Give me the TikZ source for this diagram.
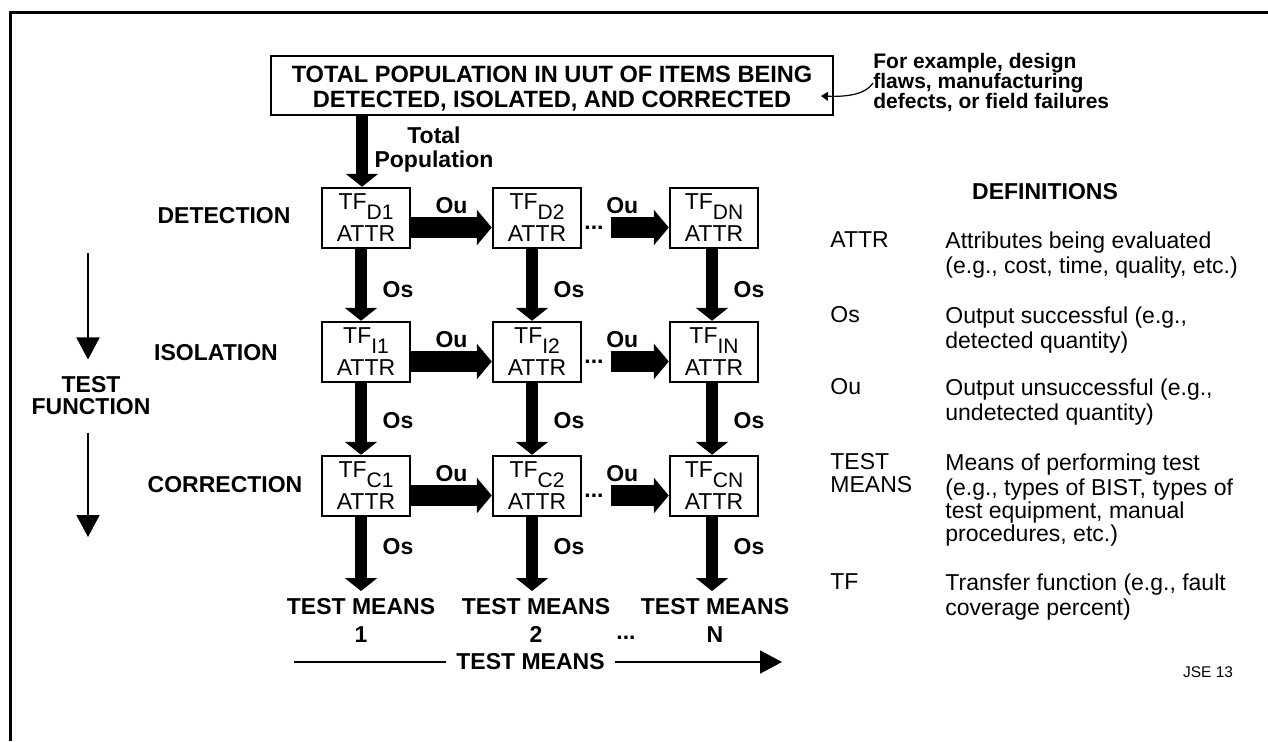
\documentclass[tikz,border=0pt]{standalone}
\usepackage{fontspec}
\setmainfont{Liberation Sans}
\usetikzlibrary{arrows.meta}

\newcommand{\tfsub}[1]{TF\raisebox{-5pt}[0pt][0pt]{\fontsize{10.5}{10.5}\selectfont #1}}
\newcommand{\notefont}{\bfseries\fontsize{10.5}{10}\selectfont\lineskiplimit=-5pt\relax}

\begin{document}
\begin{tikzpicture}[x=0.5pt, y=-0.5pt,
  cell/.style={draw, line width=1.25pt, minimum width=44pt, minimum height=30pt,
               inner sep=0pt, align=center, font=\fontsize{11.5}{16}\selectfont},
  lbl/.style={font=\bfseries\fontsize{11.5}{11}\selectfont, align=center},
  hflow/.style={line width=10.5pt, -{Triangle[length=7.5pt, width=17.5pt]}},
  vflow/.style={line width=6pt, -{Triangle[length=6.5pt, width=16pt]}},
  axis/.style={line width=1pt, -{Triangle[length=11pt, width=11.5pt]}},
  defn/.style={anchor=north west, inner sep=0pt, align=left,
               font=\fontsize{11.5}{11.5}\selectfont}]
  \useasboundingbox (0,0) rectangle (1268,741);
  \draw[line width=1.5pt] (10.75,741) -- (10.75,12.5) -- (1268,12.5);

  % population box and note
  \node[draw, line width=1.4pt, minimum width=281pt, minimum height=29.5pt,
        inner sep=0pt, lbl, font=\bfseries\fontsize{11.8}{12.5}\selectfont]
        (pop) at (552,85.5) {\rule{0pt}{11.5pt}TOTAL POPULATION IN UUT OF ITEMS BEING\\DETECTED, ISOLATED, AND CORRECTED};
  \node[align=left, anchor=west, inner sep=0pt, font=\notefont]
        (note) at (873,83) {For example, design\\flaws, manufacturing\\defects, or field failures};
  \coordinate (noteTip) at (821,96);
  \draw[line width=0.6pt, -{Triangle[length=3.5pt, width=4.5pt]}]
    (note.west) .. controls (866,94) and (848,97) .. (noteTip);

  % transfer function grid
  \node[cell] (D1) at (366,218) {\tfsub{D1}\\ATTR};
  \node[cell] (D2) at (537,218) {\tfsub{D2}\\ATTR};
  \node[cell] (DN) at (714,218) {\tfsub{DN}\\ATTR};
  \node[cell] (I1) at (366,352) {\tfsub{I1}\\ATTR};
  \node[cell] (I2) at (537,352) {\tfsub{I2}\\ATTR};
  \node[cell] (IN) at (714,352) {\tfsub{IN}\\ATTR};
  \node[cell] (C1) at (366,486) {\tfsub{C1}\\ATTR};
  \node[cell] (C2) at (537,486) {\tfsub{C2}\\ATTR};
  \node[cell] (CN) at (714,486) {\tfsub{CN}\\ATTR};

  \node[lbl] (det) at (224,216) {DETECTION};
  \node[lbl] (iso) at (216,353) {ISOLATION};
  \node[lbl] (cor) at (225,485) {CORRECTION};

  \draw[vflow] ([xshift=-2pt]D1.north |- pop.south) -- ([xshift=-2pt]D1.north);
  \node[lbl, font=\bfseries\fontsize{11.5}{12}\selectfont] (totlbl) at (434,150) {Total\\Population};

  % undetected outputs along each row
  \node[lbl] (dotsD) at (594,227.5) {...};
  \node[lbl] (dotsI) at (594,361.5) {...};
  \node[lbl] (dotsC) at (594,495.5) {...};
  \draw[hflow] (D1.east |- dotsD) -- node[lbl, above=-1.5pt] {Ou} (D2.west |- dotsD);
  \draw[hflow] (dotsD.east) -- node[lbl, above=-1.5pt, pos=0.2] {Ou} (dotsD.east -| DN.west);
  \draw[hflow] (I1.east |- dotsI) -- node[lbl, above=-1.5pt] {Ou} (I2.west |- dotsI);
  \draw[hflow] (dotsI.east) -- node[lbl, above=-1.5pt, pos=0.2] {Ou} (dotsI.east -| IN.west);
  \draw[hflow] (C1.east |- dotsC) -- node[lbl, above=-1.5pt] {Ou} (C2.west |- dotsC);
  \draw[hflow] (dotsC.east) -- node[lbl, above=-1.5pt, pos=0.2] {Ou} (dotsC.east -| CN.west);

  % successful outputs down each column
  \draw[vflow] ([xshift=-2.5pt]D1.south) -- node[lbl, right=4.5pt, pos=0.56] {Os} ([xshift=-2.5pt]I1.north);
  \draw[vflow] ([xshift=-2.5pt]D2.south) -- node[lbl, right=4.5pt, pos=0.56] {Os} ([xshift=-2.5pt]I2.north);
  \draw[vflow] ([xshift=-1pt]DN.south) -- node[lbl, right=4.5pt, pos=0.56] {Os} ([xshift=-1pt]IN.north);
  \draw[vflow] ([xshift=-2.5pt]I1.south) -- node[lbl, right=4.5pt, pos=0.52] {Os} ([xshift=-2.5pt]C1.north);
  \draw[vflow] ([xshift=-2.5pt]I2.south) -- node[lbl, right=4.5pt, pos=0.52] {Os} ([xshift=-2.5pt]C2.north);
  \draw[vflow] ([xshift=-1pt]IN.south) -- node[lbl, right=4.5pt, pos=0.52] {Os} ([xshift=-1pt]CN.north);

  \node[lbl, font=\bfseries\fontsize{11.5}{14}\selectfont, anchor=north] (TM1) at (361,591) {TEST MEANS\\1};
  \node[lbl, font=\bfseries\fontsize{11.5}{14}\selectfont, anchor=north] (TM2) at (536,591) {TEST MEANS\\2};
  \node[lbl, font=\bfseries\fontsize{11.5}{14}\selectfont, anchor=north] (TMN) at (715,591) {TEST MEANS\\N};
  \node[lbl] (dotsM) at (626,638) {...};
  \draw[vflow] ([xshift=-2.5pt]C1.south) -- node[lbl, right=4.5pt, pos=0.4] {Os} ([xshift=-2.5pt]C1.south |- TM1.north);
  \draw[vflow] ([xshift=-2.5pt]C2.south) -- node[lbl, right=4.5pt, pos=0.4] {Os} ([xshift=-2.5pt]C2.south |- TM2.north);
  \draw[vflow] ([xshift=-1pt]CN.south) -- node[lbl, right=4.5pt, pos=0.4] {Os} ([xshift=-1pt]CN.south |- TMN.north);

  % axes
  \coordinate (mL) at (294,662);
  \coordinate (mR) at (782,662);
  \node[lbl, inner xsep=5pt] (maxis) at (530.5,662) {TEST MEANS};
  \draw[line width=1pt] (mL) -- (maxis.west);
  \draw[axis] (maxis.east) -- (mR);

  \node[lbl, inner ysep=8.5pt] (tfun) at (91,396) {TEST\\FUNCTION};
  \coordinate (fTop) at (88,253);
  \coordinate (fBot) at (88,537);
  \draw[axis] (fTop) -- (fTop |- tfun.north);
  \draw[axis] (fTop |- tfun.south) -- (fBot);

  % definitions
  \node[lbl] (defs) at (1045,192) {DEFINITIONS};
  \node[defn] (tATTR) at (830,231) {\strut ATTR};
  \node[defn] (dATTR) at (945,231) {\strut Attributes being evaluated\\(e.g., cost, time, quality, etc.)};
  \node[defn] (tOs) at (830,306) {\strut Os};
  \node[defn] (dOs) at (945,306) {\strut Output successful (e.g.,\\detected quantity)};
  \node[defn] (tOu) at (830,378) {\strut Ou};
  \node[defn] (dOu) at (945,378) {\strut Output unsuccessful (e.g.,\\undetected quantity)};
  \node[defn] (tTM) at (830,453) {\strut TEST\\MEANS};
  \node[defn] (dTM) at (945,453) {\strut Means of performing test\\(e.g., types of BIST, types of\\test equipment, manual\\procedures, etc.)};
  \node[defn] (tTF) at (830,573) {\strut TF};
  \node[defn] (dTF) at (945,573) {\strut Transfer function (e.g., fault\\coverage percent)};

  \node[font=\fontsize{7.75}{8}\selectfont] (jse) at (1208,672) {JSE 13};
\end{tikzpicture}
\end{document}
